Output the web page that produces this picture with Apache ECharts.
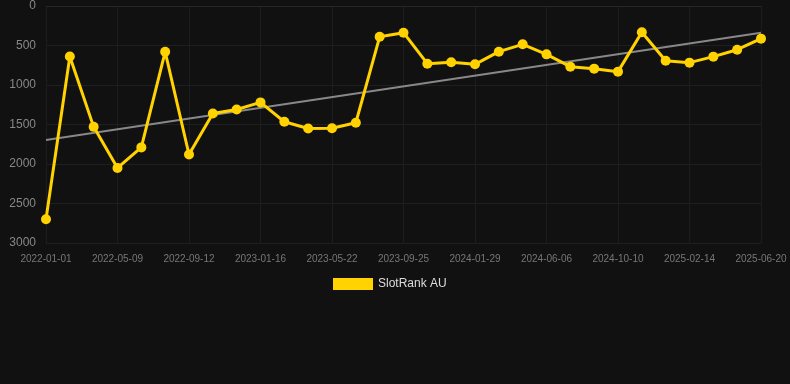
<!DOCTYPE html>
<html>
<head>
<meta charset="utf-8">
<script src="https://cdn.jsdelivr.net/npm/echarts@6/dist/echarts.min.js"></script>
<style>
html,body{margin:0;padding:0;background:#111111;}
#c{width:790px;height:384px;}
</style>
</head>
<body>
<div id="c"></div>
<script>
var dates = ['2022-01-01','2022-02-12','2022-03-26','2022-05-09','2022-06-20','2022-08-01','2022-09-12','2022-10-24','2022-12-05','2023-01-16','2023-02-27','2023-04-10','2023-05-22','2023-07-03','2023-08-14','2023-09-25','2023-11-06','2023-12-18','2024-01-29','2024-03-11','2024-04-24','2024-06-06','2024-07-18','2024-08-29','2024-10-10','2024-11-21','2025-01-03','2025-02-14','2025-03-28','2025-05-09','2025-06-20'];
var rankAU = [2700,640,1530,2050,1790,580,1880,1360,1310,1220,1465,1550,1548,1478,390,338,730,713,738,578,485,612,768,793,831,333,692,717,641,553,413];
var trendStart = 1696;
var trendEnd = 338;
var yTicks = [0,500,1000,1500,2000,2500,3000];

var chart = echarts.init(document.getElementById('c'), null, {renderer:'canvas'});
chart.setOption({
  backgroundColor:'#111111',
  animation:false,
  grid:{left:46,right:29,top:6,bottom:141,containLabel:false},
  legend:{
    data:['SlotRank AU'],
    top:278,
    left:333,
    padding:0,
    itemWidth:40,itemHeight:12,
    itemGap:10,
    icon:'rect',
    textStyle:{color:'#dddddd',fontSize:12,fontFamily:'Arial, Liberation Sans, sans-serif'}
  },
  xAxis:{
    type:'category',
    data:dates,
    boundaryGap:false,
    axisLine:{show:true,lineStyle:{color:'#262626'}},
    axisTick:{show:false},
    axisLabel:{interval:2,color:'#777777',fontSize:10,margin:11,fontFamily:'Arial, Liberation Sans, sans-serif'},
    splitLine:{show:true,interval:2,lineStyle:{color:'#1d1d1d',width:1}}
  },
  yAxis:{
    type:'value',
    inverse:true,
    min:yTicks[0],max:yTicks[yTicks.length-1],interval:500,
    axisLine:{show:false},
    axisTick:{show:false},
    axisLabel:{color:'#888888',fontSize:12,margin:10,fontFamily:'Arial, Liberation Sans, sans-serif',
      formatter:function(v){return String(v);}},
    splitLine:{show:true,lineStyle:{color:'#1f1f1f',width:1}}
  },
  series:[
    {
      name:'trend',
      type:'line',
      data:[[dates[0],trendStart],[dates[dates.length-1],trendEnd]],
      symbol:'none',
      lineStyle:{color:'#888888',width:2},
      silent:true,
      z:1
    },
    {
      name:'SlotRank AU',
      type:'line',
      data:rankAU,
      symbol:'circle',
      symbolSize:10,
      itemStyle:{color:'#FFD200'},
      lineStyle:{color:'#FFD200',width:3},
      z:3
    }
  ]
});
</script>
</body>
</html>
